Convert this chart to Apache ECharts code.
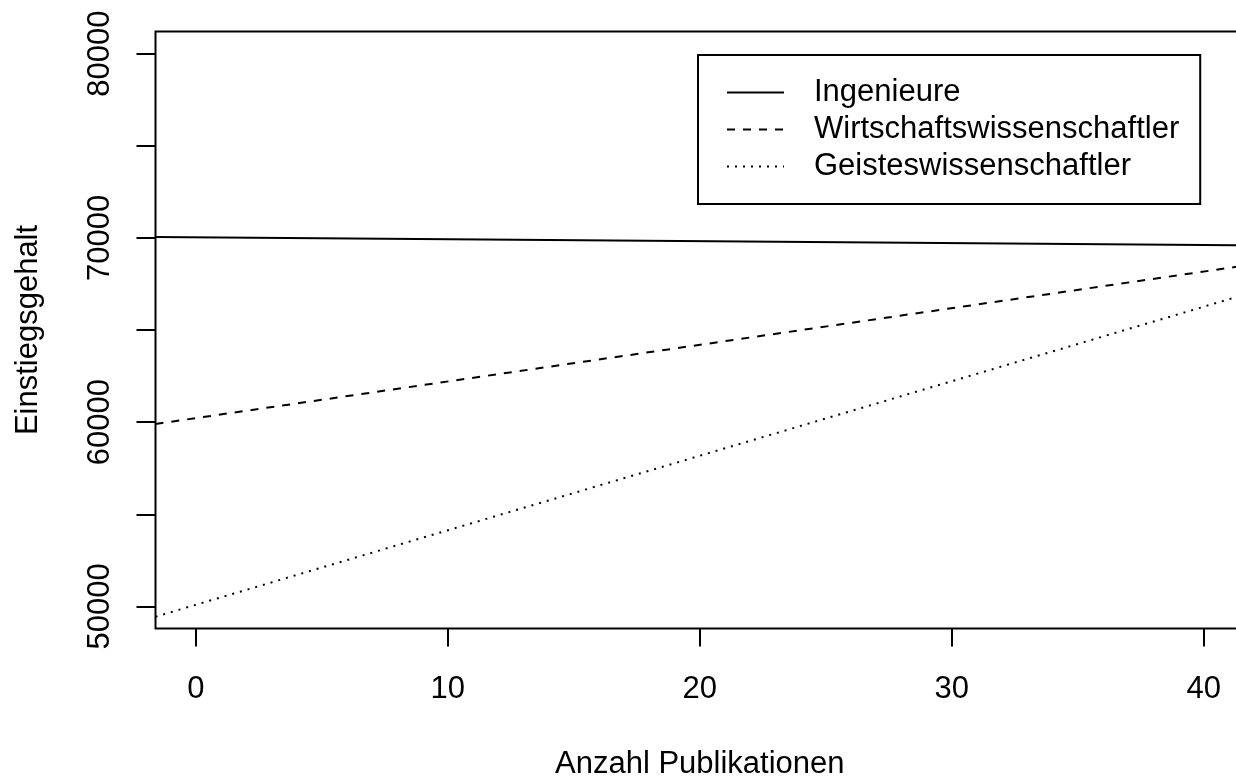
<!DOCTYPE html>
<html>
<head>
<meta charset="utf-8">
<script src="https://cdn.jsdelivr.net/npm/echarts@6/dist/echarts.min.js"></script>
<style>
html,body{margin:0;padding:0;background:#fff;}
#chart{width:1236px;height:776px;}
</style>
</head>
<body>
<div id="chart"></div>
<script>
// Data (x endpoints of the fitted lines across the plot range, y values there)
const xEnds = [-1.6, 41.6];
const ingenieure = [70050, 69600];
const wirtschaft = [59900, 68490];
const geistes = [49440, 66910];
const seriesNames = ['Ingenieure', 'Wirtschaftswissenschaftler', 'Geisteswissenschaftler'];
const xTicks = [0, 10, 20, 30, 40];
const yTicks = [50000, 55000, 60000, 65000, 70000, 75000, 80000];
const yLabels = [50000, 60000, 70000, 80000];
const xRange = [-1.6, 41.6];
const yRange = [48800, 81200];

const FONT = '"Liberation Sans", Arial, Helvetica, sans-serif';
const FS = 31;

function pairs(ys) { return xEnds.map((x, i) => [x, ys[i]]); }

const chart = echarts.init(document.getElementById('chart'), null, {renderer: 'canvas'});
const lineDefs = [
  {name: seriesNames[0], data: ingenieure, type: 'solid'},
  {name: seriesNames[1], data: wirtschaft, type: [8, 8]},
  {name: seriesNames[2], data: geistes, type: [2, 6]}
];
chart.setOption({
  animation: false,
  backgroundColor: '#fff',
  textStyle: {fontFamily: FONT, color: '#000'},
  grid: {
    left: 155.5, top: 31.5, right: -8, bottom: 147.5,
    outerBoundsMode: 'none', containLabel: false,
    show: true, borderColor: '#000', borderWidth: 2, backgroundColor: 'transparent'
  },
  legend: {
    orient: 'vertical',
    left: 698, top: 55,
    padding: [19, 21, 19, 28],
    borderColor: '#000', borderWidth: 2,
    itemGap: 0, itemWidth: 57, itemHeight: 14,
    itemStyle: {opacity: 0},
    textStyle: {fontFamily: FONT, fontSize: FS, color: '#000', lineHeight: 37, padding: [0, 0, 0, 25]},
    data: seriesNames
  },
  xAxis: {
    type: 'value', min: xRange[0], max: xRange[1],
    name: 'Anzahl Publikationen', nameLocation: 'middle', nameGap: 120,
    nameTextStyle: {fontFamily: FONT, fontSize: FS, color: '#000'},
    axisLine: {show: false, onZero: false},
    splitLine: {show: false},
    axisTick: {show: true, inside: false, length: 18, lineStyle: {color: '#000', width: 2}, customValues: xTicks},
    axisLabel: {fontFamily: FONT, fontSize: FS, color: '#000', margin: 45, customValues: xTicks,
      formatter: v => String(v)}
  },
  yAxis: {
    type: 'value', min: yRange[0], max: yRange[1],
    name: 'Einstiegsgehalt', nameLocation: 'middle', nameGap: 112, nameRotate: 90,
    nameTextStyle: {fontFamily: FONT, fontSize: FS, color: '#000'},
    axisLine: {show: false, onZero: false},
    splitLine: {show: false},
    axisTick: {show: true, inside: false, length: 19, lineStyle: {color: '#000', width: 2}, customValues: yTicks},
    axisLabel: {fontFamily: FONT, fontSize: FS, color: '#000', rotate: 90, margin: 40, customValues: yLabels,
      formatter: v => String(v)}
  },
  series: lineDefs.map(d => ({
    name: d.name, type: 'line', data: pairs(d.data), symbol: 'none',
    lineStyle: {color: '#000', width: 2, type: d.type},
    itemStyle: {color: '#000'},
    clip: true
  }))
});
</script>
</body>
</html>
